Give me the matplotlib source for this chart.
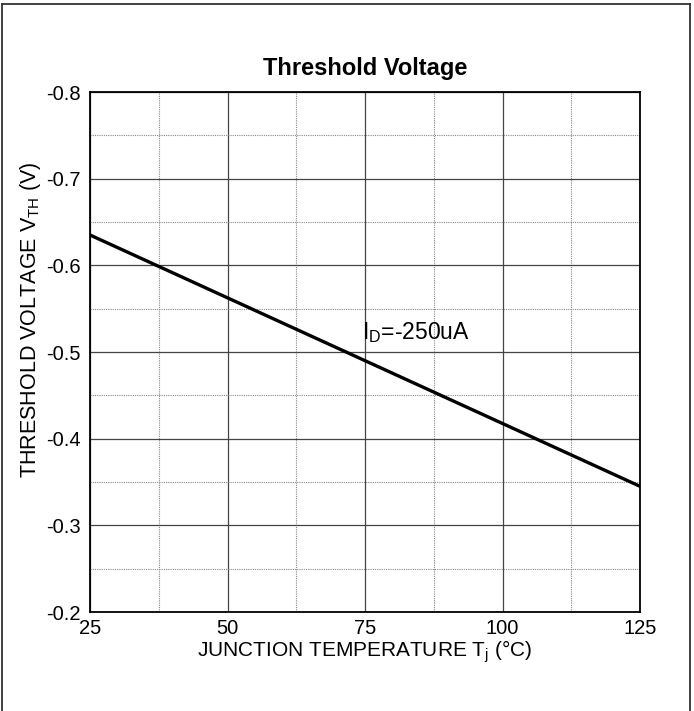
import matplotlib.pyplot as plt
from matplotlib.ticker import MultipleLocator
from matplotlib.lines import Line2D

plt.rcParams['font.family'] = ['Liberation Sans', 'DejaVu Sans']

# Data
temperature = [25, 125]
vth = [-0.635, -0.345]

x_ticks = [25, 50, 75, 100, 125]
y_ticks = [-0.8, -0.7, -0.6, -0.5, -0.4, -0.3, -0.2]

fig = plt.figure(figsize=(6.94, 7.11), dpi=100)
ax = fig.add_axes([90 / 694, 1 - 612 / 711, 550 / 694, 520 / 711])

ax.plot(temperature, vth, color='black', linewidth=2.4, solid_capstyle='butt')

ax.set_xlim(25, 125)
ax.set_ylim(-0.2, -0.8)
ax.set_xticks(x_ticks)
ax.set_yticks(y_ticks)
ax.set_yticklabels([f"{v:.1f}" for v in y_ticks])
ax.xaxis.set_minor_locator(MultipleLocator(12.5))
ax.yaxis.set_minor_locator(MultipleLocator(0.05))

ax.grid(which='major', color='#444444', linewidth=0.9)
ax.grid(which='minor', color='#888888', linewidth=0.8, linestyle=(0, (1, 1)))
ax.tick_params(which='both', length=0)
ax.tick_params(axis='x', labelsize=14.5, pad=5)
ax.tick_params(axis='y', labelsize=14.5, pad=7)
for s in ax.spines.values():
    s.set_linewidth(1.3)

ax.set_title('Threshold Voltage', fontsize=17, fontweight='bold', pad=12)
ax.set_xlabel('JUNCTION TEMPERATURE T$_\\mathregular{j}$ (°C)', fontsize=15, labelpad=0)
ax.set_ylabel('THRESHOLD VOLTAGE V$_\\mathregular{TH}$ (V)', fontsize=15.5)
ax.yaxis.set_label_coords(-0.085, 0.5615)

ax.text(74.45, -0.515, 'I$_\\mathregular{D}$=-250uA', fontsize=16.5, va='baseline', ha='left')

# outer frame
for xs, ys in [([1.5 / 694, 1.5 / 694], [0, 1 - 4 / 711]),
               ([689.5 / 694, 689.5 / 694], [0, 1 - 4 / 711]),
               ([1.5 / 694, 689.5 / 694], [1 - 4 / 711, 1 - 4 / 711])]:
    fig.add_artist(Line2D(xs, ys, color='#333333', linewidth=1.3))

fig.savefig('out.png', dpi=100)
